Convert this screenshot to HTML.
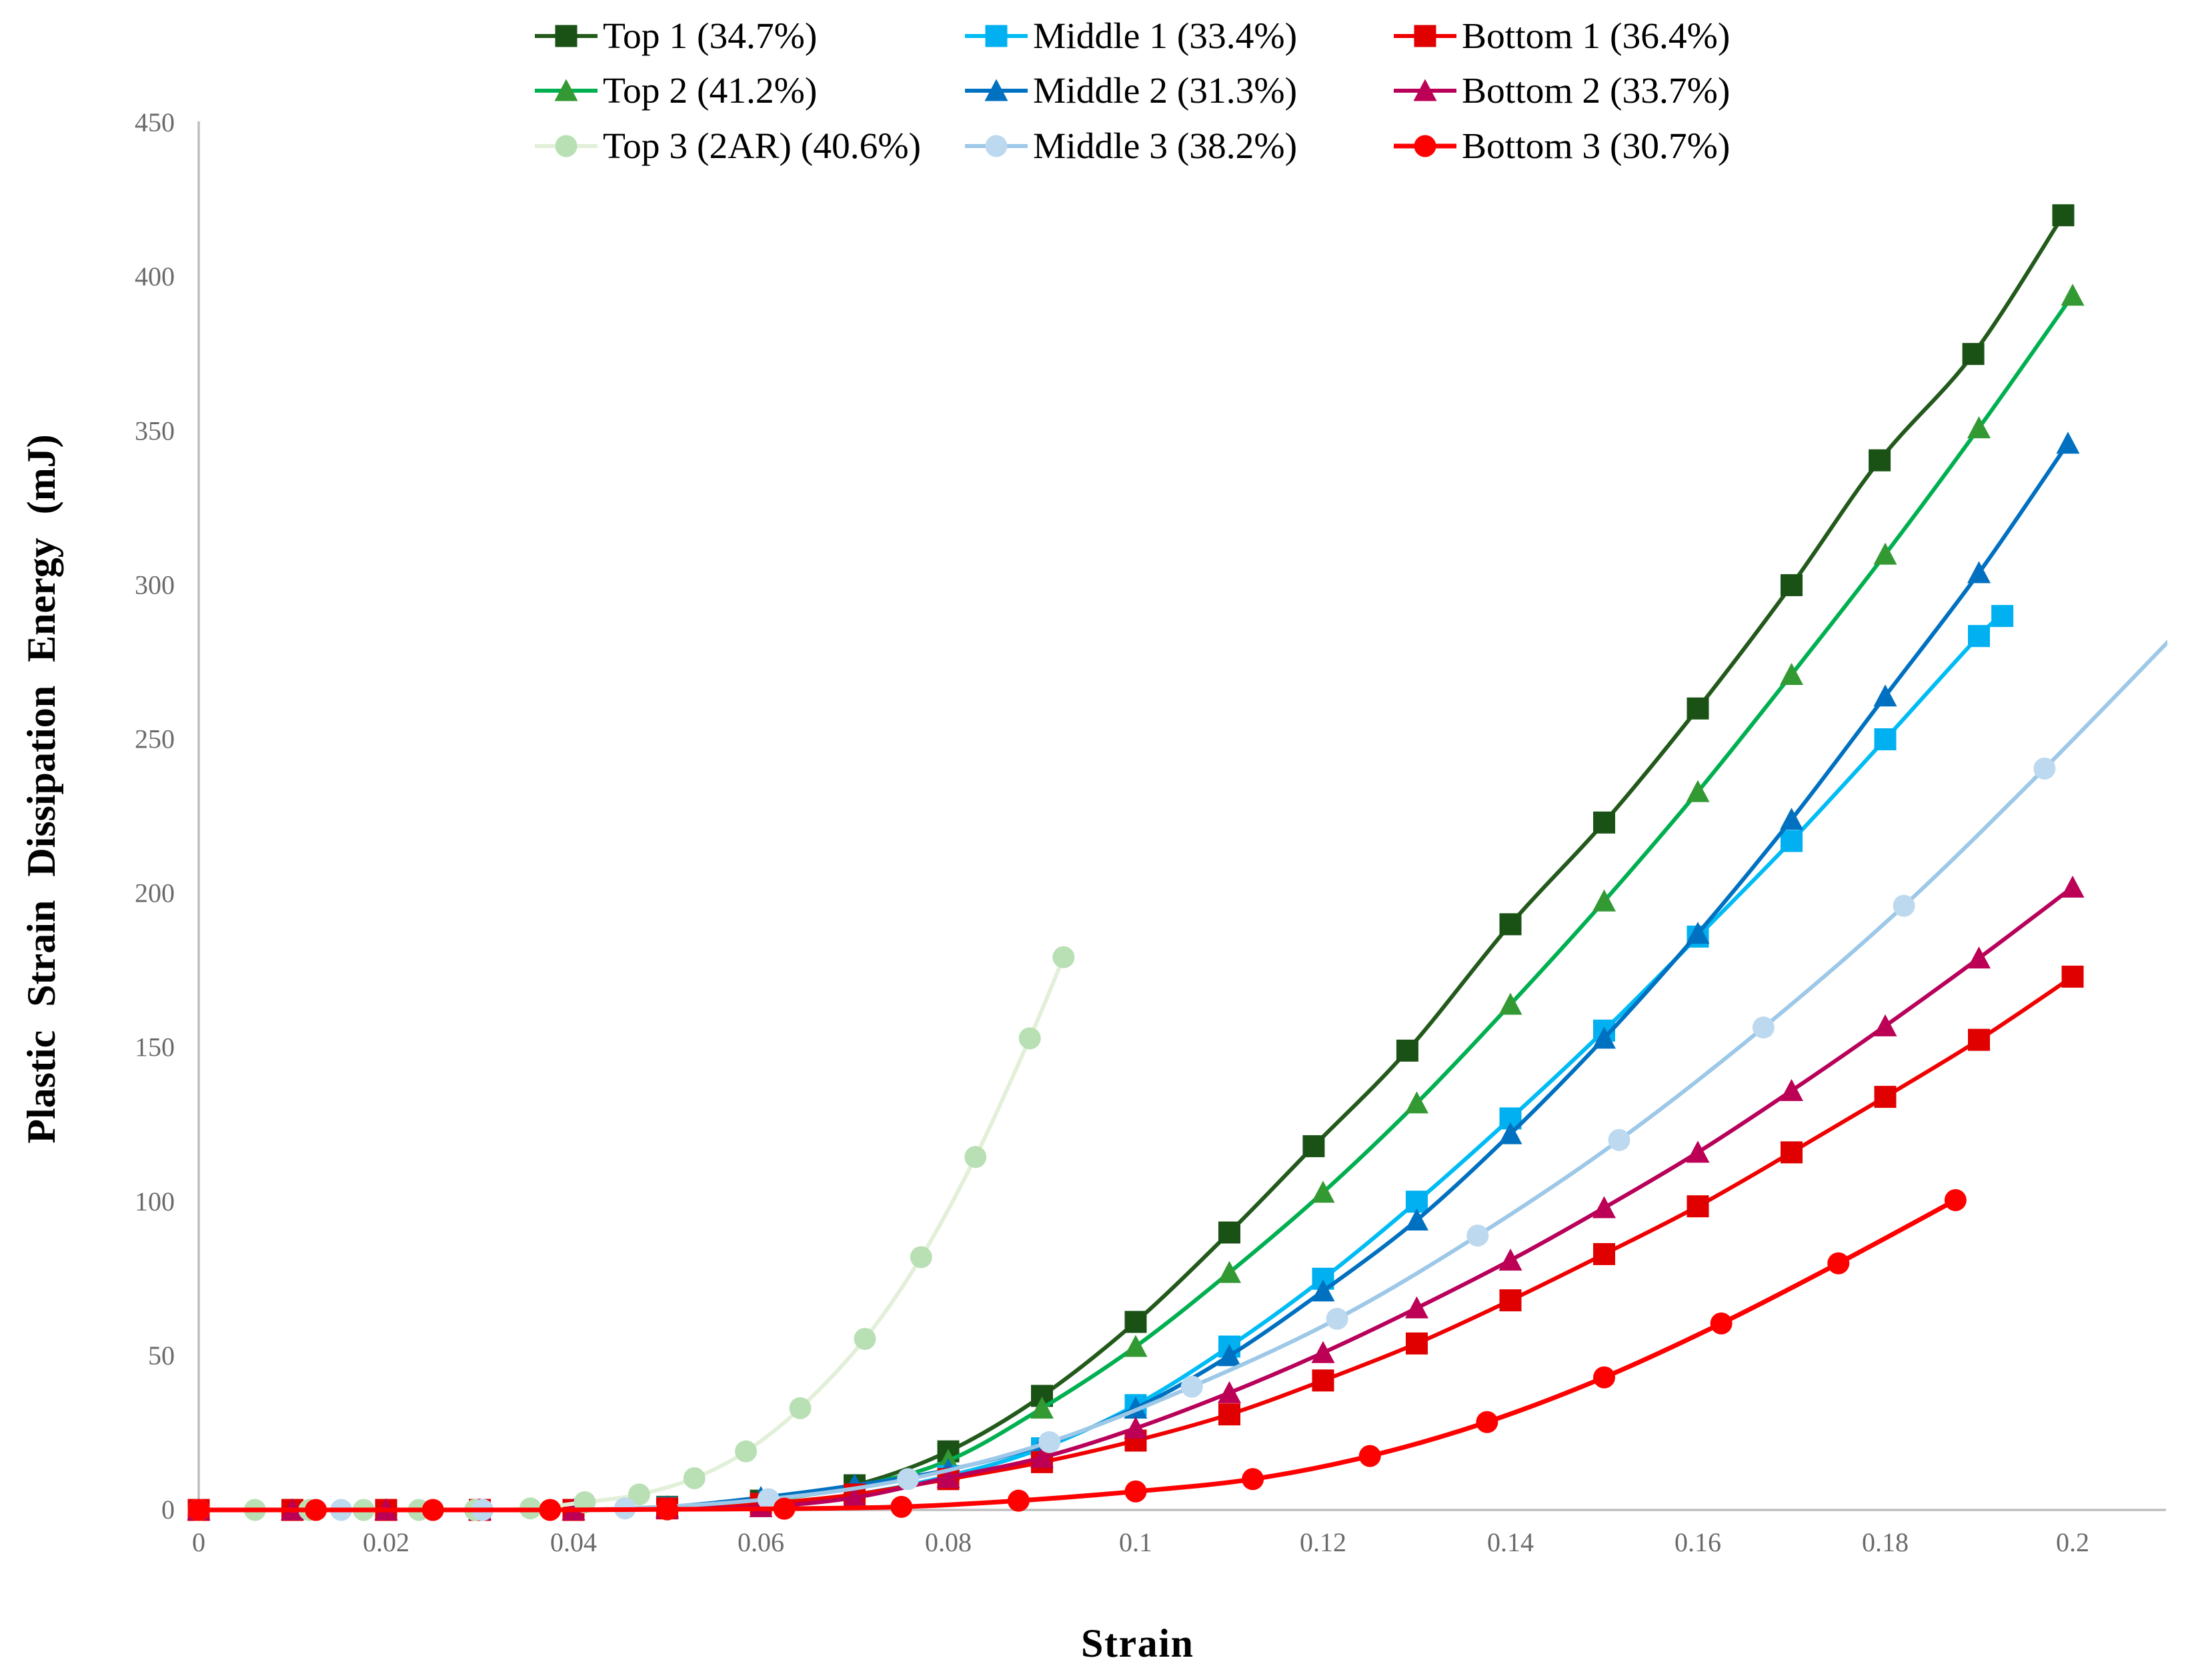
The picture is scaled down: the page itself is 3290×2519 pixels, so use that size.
<!DOCTYPE html>
<html>
<head>
<meta charset="utf-8">
<title>Plastic Strain Dissipation Energy vs Strain</title>
<style>
html,body{margin:0;padding:0;background:#fff;}
svg{display:block;}
text{font-family:"Liberation Serif","Times New Roman",serif;}
</style>
</head>
<body>
<svg id="chart" xmlns="http://www.w3.org/2000/svg" width="3290" height="2519" viewBox="0 0 3290 2519">
<defs><clipPath id="plot-clip"><rect x="0" y="0" width="3250" height="2519"/></clipPath></defs>
<rect x="0" y="0" width="3290" height="2519" fill="#ffffff"/>
<g id="axes"></g>
<g id="series" clip-path="url(#plot-clip)"></g>
<g id="legend"></g>
<text x="1705" y="2484" font-size="60" font-weight="bold" text-anchor="middle" fill="#000" textLength="168" lengthAdjust="spacing">Strain</text>
<text transform="translate(82,1183) rotate(-90)" font-size="60" font-weight="bold" text-anchor="middle" fill="#000" word-spacing="20">Plastic Strain Dissipation Energy (mJ)</text>
</svg>
<script>
const xTickLabels = ["0","0.02","0.04","0.06","0.08","0.1","0.12","0.14","0.16","0.18","0.2"];
const xTickValues = [0,0.02,0.04,0.06,0.08,0.1,0.12,0.14,0.16,0.18,0.2];
const yTickValues = [0,50,100,150,200,250,300,350,400,450];

const top1X = [0,0.01,0.02,0.03,0.04,0.05,0.06,0.07,0.08,0.09,0.1,0.11,0.119,0.129,0.14,0.15,0.16,0.17,0.1794,0.1894,0.199];
const top1Y = [0,0,0,0,0,1,3,8,19,37,61,90,118,149,190,223,260,300,340.5,375,420];
const top2X = [0,0.01,0.02,0.03,0.04,0.05,0.06,0.07,0.08,0.09,0.1,0.11,0.12,0.13,0.14,0.15,0.16,0.17,0.18,0.19,0.2];
const top2Y = [0,0,0,0,0,1,3,7.5,16,33,53,77,103,132,164,197.5,233,271,310,351,394];
const top3X = [0,0.006,0.0118,0.0176,0.0235,0.0295,0.0354,0.0412,0.047,0.0529,0.0584,0.0642,0.0711,0.0771,0.0829,0.0887,0.0923];
const top3Y = [0,0,0,0,0,0,0.5,2.5,5,10.3,19,33,55.5,82,114.5,153,179.3];
const middle1X = [0,0.01,0.02,0.03,0.04,0.05,0.06,0.07,0.08,0.09,0.1,0.11,0.12,0.13,0.14,0.15,0.16,0.17,0.18,0.19,0.1925];
const middle1Y = [0,0,0,0,0,0.7,2,5,11,20,34,53,75,100,127,155.5,186,217,250,283.5,290];
const middle2X = [0,0.01,0.02,0.03,0.04,0.05,0.06,0.07,0.08,0.09,0.1,0.11,0.12,0.13,0.14,0.15,0.16,0.17,0.18,0.19,0.1995];
const middle2Y = [0,0,0,0,0,1,4,8,13,21,33,50,71,94,122,153,187,224,264,304,346];
const middle3X = [0,0.0152,0.0303,0.0455,0.0608,0.0757,0.0908,0.106,0.1215,0.1365,0.1516,0.167,0.182,0.197,0.2122];
const middle3Y = [0,0,0,0.5,3.5,10,22,40,62,89,120,156.5,196,240.5,288];
const bottom1X = [0,0.01,0.02,0.03,0.04,0.05,0.06,0.07,0.08,0.09,0.1,0.11,0.12,0.13,0.14,0.15,0.16,0.17,0.18,0.19,0.2];
const bottom1Y = [0,0,0,0,0,0.5,2,5,10,15.5,22.5,31,42,54,68,83,98.5,116,134,152.5,173];
const bottom2X = [0,0.01,0.02,0.03,0.04,0.05,0.06,0.07,0.08,0.09,0.1,0.11,0.12,0.13,0.14,0.15,0.16,0.17,0.18,0.19,0.2];
const bottom2Y = [0,0,0,0,0,0.5,1,4,10.5,17,26.5,38,51,65.5,81,98,116,136,157,179,202];
const bottom3X = [0,0.0125,0.025,0.0375,0.05,0.0625,0.075,0.0875,0.1,0.1125,0.125,0.1375,0.15,0.1625,0.175,0.1875];
const bottom3Y = [0,0,0,0,0.2,0.4,1,3,6,10,17.5,28.5,43,60.5,80,100.5];

const seriesList = [
  {id:"top-1",label:"Top 1 (34.7%)",xs:top1X,ys:top1Y,line:"#235a1c",fill:"#1a5216",shape:"square",col:0,row:0,width:6},
  {id:"top-2",label:"Top 2 (41.2%)",xs:top2X,ys:top2Y,line:"#00b050",fill:"#339933",shape:"triangle",col:0,row:1,width:6},
  {id:"middle-1",label:"Middle 1 (33.4%)",xs:middle1X,ys:middle1Y,line:"#00bcf5",fill:"#00b0f0",shape:"square",col:1,row:0,width:6},
  {id:"middle-2",label:"Middle 2 (31.3%)",xs:middle2X,ys:middle2Y,line:"#0070c0",fill:"#0070c0",shape:"triangle",col:1,row:1,width:6},
  {id:"bottom-1",label:"Bottom 1 (36.4%)",xs:bottom1X,ys:bottom1Y,line:"#f00000",fill:"#e00000",shape:"square",col:2,row:0,width:6},
  {id:"bottom-2",label:"Bottom 2 (33.7%)",xs:bottom2X,ys:bottom2Y,line:"#b8005a",fill:"#bb0055",shape:"triangle",col:2,row:1,width:6},
  {id:"top-3",label:"Top 3 (2AR) (40.6%)",xs:top3X,ys:top3Y,line:"#e2f0d9",fill:"#b9e0b4",shape:"circle",col:0,row:2,width:6},
  {id:"middle-3",label:"Middle 3 (38.2%)",xs:middle3X,ys:middle3Y,line:"#9dc8e8",fill:"#bdd9ef",shape:"circle",col:1,row:2,width:6},
  {id:"bottom-3",label:"Bottom 3 (30.7%)",xs:bottom3X,ys:bottom3Y,line:"#ff0000",fill:"#ff0000",shape:"circle",col:2,row:2,width:7}
];

const NS = "http://www.w3.org/2000/svg";
const X0 = 298, XPERUNIT = 14050, Y0 = 2264, YPERUNIT = 4.622;
function xScale(v){ return X0 + v * XPERUNIT; }
function yScale(v){ return Y0 - v * YPERUNIT; }

function make(tag, attrs){
  const el = document.createElementNS(NS, tag);
  for (const k in attrs) el.setAttribute(k, attrs[k]);
  return el;
}

function smoothPath(pts){
  let d = "M" + pts[0][0] + " " + pts[0][1];
  for (let i = 0; i < pts.length - 1; i++){
    const p0 = pts[Math.max(0, i - 1)], p1 = pts[i], p2 = pts[i + 1], p3 = pts[Math.min(pts.length - 1, i + 2)];
    const c1x = p1[0] + (p2[0] - p0[0]) / 6, c1y = p1[1] + (p2[1] - p0[1]) / 6;
    const c2x = p2[0] - (p3[0] - p1[0]) / 6, c2y = p2[1] - (p3[1] - p1[1]) / 6;
    d += "C" + c1x.toFixed(1) + " " + c1y.toFixed(1) + " " + c2x.toFixed(1) + " " + c2y.toFixed(1) + " " + p2[0].toFixed(1) + " " + p2[1].toFixed(1);
  }
  return d;
}

function markerEl(shape, cx, cy, fill){
  const r = 16.5;
  if (shape === "square") return make("rect", {x:cx - r, y:cy - r, width:2 * r, height:2 * r, fill:fill});
  if (shape === "circle") return make("circle", {cx:cx, cy:cy, r:r, fill:fill});
  return make("polygon", {points:(cx) + "," + (cy - r - 1) + " " + (cx + r + 1) + "," + (cy + r - 1) + " " + (cx - r - 1) + "," + (cy + r - 1), fill:fill});
}

const axes = document.getElementById("axes");
const yAxisLine = make("line", {x1:X0, y1:182, x2:X0, y2:Y0, stroke:"#bfbfbf", "stroke-width":3.5});


axes.appendChild(yAxisLine);
const xAxisLine = make("line", {x1:X0, y1:Y0, x2:3248, y2:Y0, stroke:"#bfbfbf", "stroke-width":3.5});


axes.appendChild(xAxisLine);

yTickValues.forEach(function(v){
  const t = make("text", {x:262, y:yScale(v) + 13, "font-size":40, "text-anchor":"end", fill:"#6a6a6a"});
  
  
  t.textContent = String(v);
  axes.appendChild(t);
});
xTickValues.forEach(function(v, i){
  const t = make("text", {x:xScale(v), y:2326, "font-size":40, "text-anchor":"middle", fill:"#6a6a6a"});
  
  
  t.textContent = xTickLabels[i];
  axes.appendChild(t);
});

const seriesLayer = document.getElementById("series");
seriesList.forEach(function(s){
  const g = make("g", {});
  
  
  const pts = s.xs.map(function(x, i){ return [xScale(x), yScale(s.ys[i])]; });
  const path = make("path", {d:smoothPath(pts), fill:"none", stroke:s.line, "stroke-width":s.width, "stroke-linejoin":"round", "stroke-linecap":"round"});
  
  
  g.appendChild(path);
  pts.forEach(function(p){
    const m = markerEl(s.shape, p[0], p[1], s.fill);
    
    
    g.appendChild(m);
  });
  seriesLayer.appendChild(g);
});

const legendColX = [802, 1447, 2090];
const legendRowY = [54, 136, 219];
const legend = document.getElementById("legend");
seriesList.forEach(function(s){
  const lx = legendColX[s.col], ly = legendRowY[s.row];
  const entry = make("g", {});
  
  
  const sw = make("line", {x1:lx, y1:ly, x2:lx + 94, y2:ly, stroke:s.line, "stroke-width":s.width});
  
  
  entry.appendChild(sw);
  const mk = markerEl(s.shape, lx + 47, ly, s.fill);
  
  
  entry.appendChild(mk);
  const tx = make("text", {x:lx + 102, y:ly + 18, "font-size":55.5, fill:"#000"});
  
  
  tx.textContent = s.label;
  entry.appendChild(tx);
  legend.appendChild(entry);
});
</script>
</body>
</html>
